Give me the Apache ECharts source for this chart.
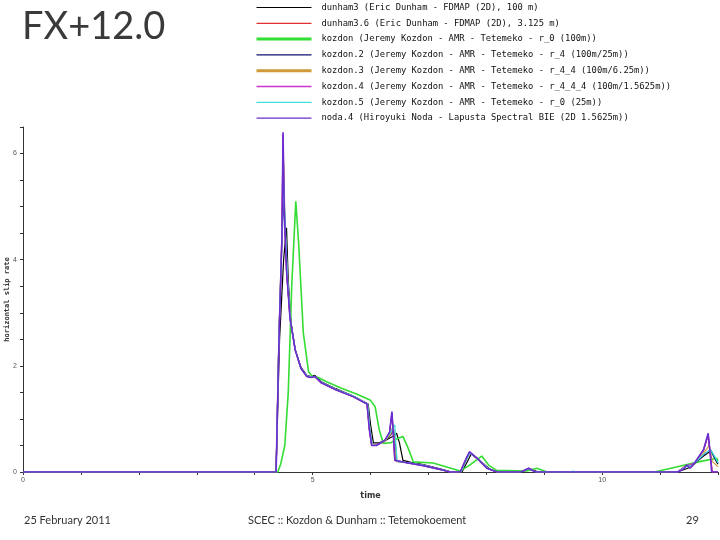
<!DOCTYPE html>
<html><head><meta charset="utf-8">
<script src="https://cdn.jsdelivr.net/npm/echarts@6/dist/echarts.min.js"></script>
<style>html,body{margin:0;padding:0;background:#fff}#c{width:720px;height:540px}</style>
</head><body><div id="c"></div>
<script>
const seriesNames = [
  "dunham3 (Eric Dunham - FDMAP (2D), 100 m)",
  "dunham3.6 (Eric Dunham - FDMAP (2D), 3.125 m)",
  "kozdon (Jeremy Kozdon - AMR - Tetemeko - r_0 (100m))",
  "kozdon.2 (Jeremy Kozdon - AMR - Tetemeko - r_4 (100m/25m))",
  "kozdon.3 (Jeremy Kozdon - AMR - Tetemeko - r_4_4 (100m/6.25m))",
  "kozdon.4 (Jeremy Kozdon - AMR - Tetemeko - r_4_4_4 (100m/1.5625m))",
  "kozdon.5 (Jeremy Kozdon - AMR - Tetemeko - r_0 (25m))",
  "noda.4 (Hiroyuki Noda - Lapusta Spectral BIE (2D 1.5625m))"
];
const seriesColors = ["#000000","#e03030","#33dd33","#10106e","#d09a3a","#cc33cc","#40e0e0","#6a2ed0"];
const seriesWidths = [1.2,1.2,1.6,1.2,1.2,1.2,1.2,1.6];
const legendWidths = [1.2,1.2,3,1.2,3,1.3,1.2,1.2];

const dunham3 = [[0,0],[4.37,0],[4.43,2.5],[4.50,4.0],[4.55,4.6],[4.58,3.6],[4.63,2.8],[4.70,2.3],[4.80,1.97],[4.90,1.82],[4.97,1.80],[5.04,1.82],[5.15,1.70],[5.40,1.57],[5.70,1.43],[5.96,1.28],[6.00,0.9],[6.05,0.55],[6.15,0.55],[6.30,0.62],[6.40,0.68],[6.45,0.73],[6.50,0.55],[6.56,0.22],[6.70,0.18],[6.91,0.14],[7.20,0.06],[7.40,0],[7.58,0],[7.74,0.34],[7.88,0.22],[8.05,0.06],[8.20,0],[8.62,0],[8.75,0.06],[8.90,0],[11.30,0],[11.50,0.08],[11.75,0.30],[11.88,0.40],[11.98,0.18],[12,0.15]];
const dunham36 = [[0,0],[4.37,0],[4.42,2.6],[4.47,4.5],[4.49,6.35],[4.51,5.0],[4.55,3.8],[4.61,2.9],[4.70,2.3],[4.80,1.95],[4.90,1.80],[4.97,1.78],[5.04,1.80],[5.15,1.68],[5.40,1.55],[5.70,1.42],[5.94,1.28],[5.98,0.8],[6.02,0.5],[6.10,0.5],[6.25,0.6],[6.33,0.75],[6.37,1.1],[6.40,0.6],[6.42,0.22],[6.60,0.18],[6.91,0.12],[7.20,0.05],[7.37,0],[7.55,0],[7.65,0.25],[7.71,0.37],[7.85,0.24],[8.01,0.07],[8.18,0],[8.60,0],[8.73,0.07],[8.85,0],[11.30,0],[11.46,0.12],[11.60,0.17],[11.75,0.40],[11.83,0.70],[11.87,0.30],[11.90,0],[12,0]];
const kozdon = [[0,0],[4.40,0],[4.45,0.15],[4.52,0.5],[4.58,1.5],[4.64,3.5],[4.71,5.1],[4.76,4.3],[4.84,2.62],[4.93,1.89],[5.00,1.80],[5.10,1.78],[5.24,1.70],[5.50,1.58],[5.80,1.45],[6.00,1.35],[6.08,1.23],[6.15,0.8],[6.22,0.54],[6.35,0.55],[6.45,0.62],[6.56,0.67],[6.65,0.45],[6.74,0.19],[7.08,0.17],[7.30,0.10],[7.55,0.02],[7.70,0.12],[7.92,0.30],[8.05,0.12],[8.18,0.03],[8.70,0.02],[8.87,0.07],[9.05,0],[10.90,0],[11.30,0.10],[11.70,0.20],[11.98,0.26],[12,0.2]];
const kozdon2 = [[0,0],[4.37,0],[4.42,2.6],[4.47,4.3],[4.50,5.2],[4.53,4.4],[4.57,3.5],[4.62,2.85],[4.70,2.3],[4.80,1.95],[4.90,1.81],[4.97,1.79],[5.04,1.80],[5.15,1.69],[5.40,1.56],[5.70,1.43],[5.95,1.28],[5.99,0.8],[6.03,0.5],[6.10,0.5],[6.25,0.58],[6.35,0.70],[6.40,0.80],[6.43,0.5],[6.45,0.2],[6.60,0.18],[6.91,0.13],[7.20,0.05],[7.38,0],[7.56,0],[7.66,0.25],[7.72,0.36],[7.86,0.24],[8.02,0.07],[8.18,0],[8.60,0],[8.73,0.06],[8.86,0],[11.30,0],[11.45,0.12],[11.55,0.10],[11.75,0.32],[11.87,0.42],[11.95,0.25],[12,0.17]];
const kozdon3 = [[0,0],[4.37,0],[4.42,2.6],[4.47,4.4],[4.50,5.8],[4.53,4.5],[4.57,3.6],[4.62,2.85],[4.70,2.3],[4.80,1.95],[4.90,1.81],[4.97,1.79],[5.04,1.80],[5.15,1.69],[5.40,1.56],[5.70,1.43],[5.95,1.28],[5.99,0.8],[6.03,0.5],[6.10,0.5],[6.25,0.58],[6.35,0.72],[6.39,0.9],[6.42,0.5],[6.44,0.2],[6.60,0.18],[6.91,0.13],[7.20,0.05],[7.38,0],[7.56,0],[7.66,0.25],[7.72,0.36],[7.86,0.24],[8.02,0.07],[8.18,0],[8.60,0],[8.73,0.06],[8.86,0],[11.30,0],[11.45,0.12],[11.55,0.10],[11.75,0.35],[11.85,0.50],[11.90,0.2],[12,0.1]];
const kozdon4 = [[0,0],[4.37,0],[4.42,2.5],[4.47,4.4],[4.49,6.38],[4.51,5.0],[4.55,3.8],[4.61,2.9],[4.70,2.3],[4.80,1.95],[4.90,1.80],[4.97,1.78],[5.04,1.80],[5.15,1.68],[5.40,1.55],[5.70,1.42],[5.94,1.28],[5.98,0.8],[6.02,0.5],[6.10,0.5],[6.25,0.6],[6.33,0.75],[6.37,1.12],[6.40,0.6],[6.42,0.22],[6.60,0.18],[6.91,0.12],[7.20,0.05],[7.37,0],[7.55,0],[7.65,0.25],[7.71,0.38],[7.85,0.25],[8.01,0.07],[8.18,0],[8.60,0],[8.73,0.07],[8.85,0],[11.30,0],[11.46,0.12],[11.60,0.17],[11.75,0.42],[11.83,0.68],[11.87,0.3],[11.90,0],[12,0]];
const kozdon5 = [[0,0],[4.37,0],[4.42,2.6],[4.47,4.4],[4.50,5.5],[4.53,4.6],[4.57,3.6],[4.62,2.85],[4.70,2.3],[4.80,1.95],[4.90,1.81],[4.97,1.79],[5.04,1.80],[5.15,1.69],[5.40,1.56],[5.70,1.43],[5.95,1.28],[5.99,0.8],[6.03,0.5],[6.10,0.5],[6.25,0.6],[6.35,0.75],[6.42,0.89],[6.44,0.5],[6.46,0.2],[6.60,0.18],[6.91,0.13],[7.20,0.05],[7.38,0],[7.56,0],[7.66,0.25],[7.72,0.36],[7.86,0.24],[8.02,0.07],[8.18,0],[8.60,0],[8.73,0.06],[8.86,0],[9.45,0],[9.50,0.02],[9.55,0],[11.30,0],[11.45,0.10],[11.55,0.12],[11.75,0.33],[11.87,0.42],[11.95,0.28],[12,0.17]];
const noda4 = [[0,0],[4.37,0],[4.42,2.5],[4.47,4.4],[4.49,6.4],[4.51,5.0],[4.55,3.8],[4.61,2.9],[4.70,2.3],[4.80,1.95],[4.90,1.80],[4.97,1.78],[5.04,1.80],[5.15,1.68],[5.40,1.55],[5.70,1.42],[5.94,1.28],[5.98,0.8],[6.02,0.5],[6.10,0.5],[6.25,0.6],[6.33,0.75],[6.37,1.14],[6.40,0.6],[6.42,0.22],[6.60,0.18],[6.91,0.12],[7.20,0.05],[7.37,0],[7.55,0],[7.65,0.25],[7.71,0.38],[7.85,0.25],[8.01,0.07],[8.18,0],[8.60,0],[8.73,0.07],[8.85,0],[11.30,0],[11.40,0.05],[11.46,0.13],[11.52,0.07],[11.60,0.18],[11.75,0.42],[11.83,0.73],[11.87,0.3],[11.89,0],[12,0]];
const seriesData = [dunham3, dunham36, kozdon, kozdon2, kozdon3, kozdon4, kozdon5, noda4];

const xTicks = [0, 5, 10];
const yTicks = [0, 2, 4, 6];

const chart = echarts.init(document.getElementById('c'));
chart.setOption({
  animation: false,
  backgroundColor: '#fff',
  grid: { left: 23, right: 2, top: 127, bottom: 68, containLabel: false, outerBoundsMode: 'none' },
  legend: {
    orient: 'vertical', left: 255, top: 3, padding: 0,
    itemWidth: 55, itemHeight: 10, itemGap: 6.8,
    textStyle: { fontFamily: 'DejaVu Sans Mono', fontSize: 8.8, color: '#111', padding: [0,0,0,5] },
    data: seriesNames.map((n, i) => ({ name: n, itemStyle: { opacity: 0 }, lineStyle: { width: legendWidths[i], color: seriesColors[i] } }))
  },
  xAxis: {
    type: 'value', min: 0, max: 12, interval: 1,
    name: 'time', nameLocation: 'middle', nameGap: 20, nameMoveOverlap: false,
    nameTextStyle: { fontFamily: 'DejaVu Sans', fontSize: 8, fontWeight: 'bold', color: '#333' },
    axisLine: { lineStyle: { color: '#333', width: 1 } },
    axisTick: { length: 3, lineStyle: { color: '#333' } },
    axisLabel: { fontSize: 7, color: '#555', margin: 5, formatter: v => xTicks.includes(v) ? String(v) : '' },
    splitLine: { show: false }
  },
  yAxis: {
    type: 'value', min: 0, max: 6.5, interval: 0.5,
    name: 'horizontal slip rate', nameLocation: 'middle', nameGap: 12, nameMoveOverlap: false,
    nameTextStyle: { fontFamily: 'DejaVu Sans Mono', fontSize: 7, fontWeight: 'bold', color: '#333' },
    axisLine: { show: true, lineStyle: { color: '#333', width: 1 } },
    axisTick: { show: true, length: 3, lineStyle: { color: '#333' } },
    axisLabel: { fontSize: 7, color: '#555', margin: 6, formatter: v => yTicks.includes(v) ? String(v) : '' },
    splitLine: { show: false }
  },
  series: seriesNames.map((n, i) => ({
    name: n, type: 'line', data: seriesData[i], symbol: 'none', showSymbol: false,
    lineStyle: { color: seriesColors[i], width: seriesWidths[i] },
    itemStyle: { color: seriesColors[i] }
  })),
  graphic: [
    { type: 'text', left: 22, top: 8, style: { text: 'FX+12.0', font: '38px Lato', fill: '#3a3a3a' } },
    { type: 'text', left: 24, top: 515, style: { text: '25 February 2011', font: '11px Lato', fill: '#333' } },
    { type: 'text', left: 248, top: 515, style: { text: 'SCEC :: Kozdon & Dunham :: Tetemokoement', font: '11px Lato', fill: '#333' } },
    { type: 'text', left: 686, top: 515, style: { text: '29', font: '11px Lato', fill: '#333' } }
  ]
});
</script></body></html>
